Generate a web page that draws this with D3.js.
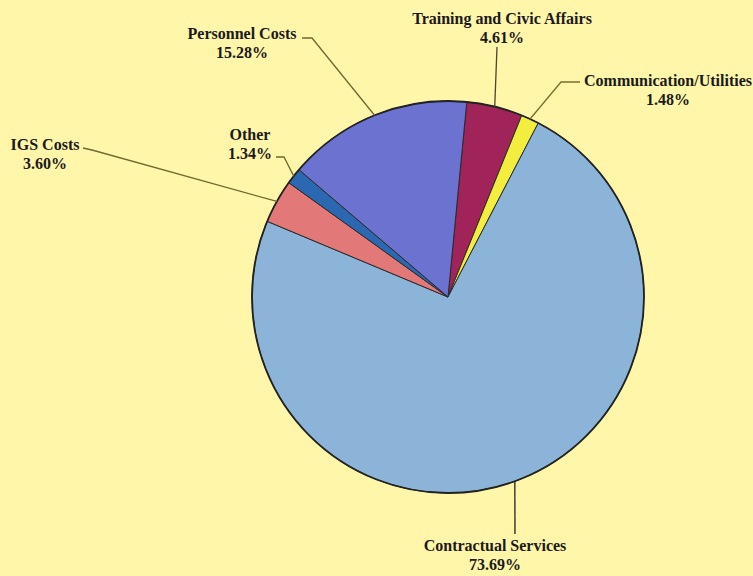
<!DOCTYPE html>
<html>
<head>
<meta charset="utf-8">
<script src="https://cdn.jsdelivr.net/npm/d3@7"></script>
<style>
  html, body { margin: 0; padding: 0; background: #fff6aa; }
  svg { display: block; }
  .slice-label { font-family: "Liberation Serif", "Times New Roman", serif; font-weight: bold; font-size: 16px; fill: #1a1a1a; }
</style>
</head>
<body>
<div id="chart"></div>
<script>
// Slices in clockwise order, starting just right of 12 o'clock
const categories = [
    'Training and Civic Affairs',
    'Communication/Utilities',
    'Contractual Services',
    'IGS Costs',
    'Other',
    'Personnel Costs'
];
const shares = [4.61, 1.48, 73.69, 3.60, 1.34, 15.28];

const sliceColors = ['#a0245a', '#f3ee3e', '#8cb4d8', '#e27878', '#2c68b2', '#6b72d0'];

// label anchor (centre of text) and leader bend points, in page pixels
const labelLayout = {
    'Training and Civic Affairs': { x: 502, y: 24, leader: [[497, 47]], stroke: '#4a4630' },
    'Communication/Utilities':    { x: 668, y: 86, leader: [[580, 82], [561, 82]], stroke: '#77702f' },
    'Contractual Services':       { x: 495, y: 551, leader: [[515, 534]], stroke: '#222222' },
    'IGS Costs':                  { x: 45,  y: 150, leader: [[83, 148], [92, 150]], stroke: '#6e6a30' },
    'Other':                      { x: 250, y: 140, leader: [[276, 157], [284, 157]], stroke: '#6e6a30' },
    'Personnel Costs':            { x: 242, y: 39,  leader: [[302, 38], [312, 38]], stroke: '#6e6a30' }
};

const width = 753;
const height = 576;
const cx = 448, cy = 297, radius = 196;
const startAngle = 5.5 * Math.PI / 180;

const svg = d3.select('#chart')
    .append('svg')
    .attr('width', width)
    .attr('height', height);

svg.append('rect')
    .attr('width', width)
    .attr('height', height)
    .attr('fill', '#fff6aa');

const data = categories.map((name, i) => ({ name, value: shares[i], color: sliceColors[i] }));

const pie = d3.pie()
    .value(d => d.value)
    .sort(null)
    .startAngle(startAngle)
    .endAngle(startAngle + 2 * Math.PI);

const arc = d3.arc().innerRadius(0).outerRadius(radius);
const edgeArc = d3.arc().innerRadius(radius).outerRadius(radius);

const arcs = pie(data);

const g = svg.append('g')
    .attr('transform', `translate(${cx}, ${cy})`);

g.selectAll('.slice')
    .data(arcs)
    .enter()
    .append('path')
    .attr('class', 'slice')
    .attr('d', arc)
    .attr('fill', d => d.data.color)
    .attr('stroke', '#2a2a2a')
    .attr('stroke-width', 1)
    .attr('stroke-linejoin', 'round');

// outer rim
g.append('circle')
    .attr('r', radius)
    .attr('fill', 'none')
    .attr('stroke', '#222')
    .attr('stroke-width', 1.8);

// Leader lines: from slice edge (mid angle) to bend points near label
const line = d3.line();
svg.selectAll('.leader')
    .data(arcs)
    .enter()
    .append('path')
    .attr('class', 'leader')
    .attr('fill', 'none')
    .attr('stroke', d => labelLayout[d.data.name].stroke)
    .attr('stroke-width', 1.3)
    .attr('d', d => {
        const [ex, ey] = edgeArc.centroid(d);
        const pts = labelLayout[d.data.name].leader.slice();
        pts.push([cx + ex, cy + ey]);
        return line(pts);
    });

// Labels
const fmt = d3.format('.2f');
const labels = svg.selectAll('.slice-label')
    .data(arcs)
    .enter()
    .append('text')
    .attr('class', 'slice-label')
    .attr('text-anchor', 'middle')
    .attr('x', d => labelLayout[d.data.name].x)
    .attr('y', d => labelLayout[d.data.name].y);

labels.append('tspan')
    .attr('x', d => labelLayout[d.data.name].x)
    .text(d => d.data.name);

labels.append('tspan')
    .attr('x', d => labelLayout[d.data.name].x)
    .attr('dy', 19)
    .text(d => fmt(d.data.value) + '%');
</script>
</body>
</html>
